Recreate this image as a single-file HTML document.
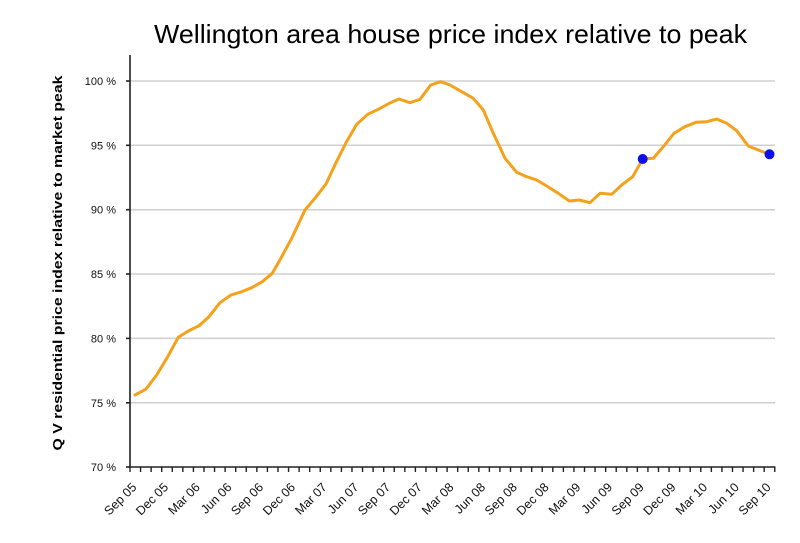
<!DOCTYPE html>
<html>
<head>
<meta charset="utf-8">
<style>
html,body{margin:0;padding:0;background:#fff;}
svg{display:block;}
text{font-family:"Liberation Sans",Arial,sans-serif;}
</style>
</head>
<body>
<svg width="800" height="543" viewBox="0 0 800 543" xmlns="http://www.w3.org/2000/svg">
<rect width="800" height="543" fill="#fff"/>
<!-- Title -->
<text x="154" y="43" font-size="26" fill="#000" textLength="593" lengthAdjust="spacingAndGlyphs">Wellington area house price index relative to peak</text>
<!-- Y axis title -->
<text transform="translate(62,263) rotate(-90)" text-anchor="middle" font-size="13" font-weight="bold" fill="#000" textLength="375" lengthAdjust="spacingAndGlyphs">Q V residential price index relative to market peak</text>
<!-- gridlines -->
<g stroke="#cfcfcf" stroke-width="1.5">
<line x1="130" y1="81" x2="775" y2="81"/>
<line x1="130" y1="145.3" x2="775" y2="145.3"/>
<line x1="130" y1="209.7" x2="775" y2="209.7"/>
<line x1="130" y1="274" x2="775" y2="274"/>
<line x1="130" y1="338.4" x2="775" y2="338.4"/>
<line x1="130" y1="402.8" x2="775" y2="402.8"/>
</g>
<!-- Axes -->
<g stroke="#222" stroke-width="1.6">
<line x1="130" y1="55" x2="130" y2="467.5"/>
<line x1="129.5" y1="467" x2="775.5" y2="467"/>
<line x1="126" y1="81" x2="130" y2="81"/>
<line x1="126" y1="145.3" x2="130" y2="145.3"/>
<line x1="126" y1="209.7" x2="130" y2="209.7"/>
<line x1="126" y1="274" x2="130" y2="274"/>
<line x1="126" y1="338.4" x2="130" y2="338.4"/>
<line x1="126" y1="402.8" x2="130" y2="402.8"/>
<line x1="126" y1="467" x2="130" y2="467"/>
</g>
<path stroke="#222" stroke-width="1.4" fill="none" d="M130,467v5 M140.57,467v5 M151.14,467v5 M161.71,467v5 M172.28,467v5 M182.85,467v5 M193.42,467v5 M203.99,467v5 M214.56,467v5 M225.13,467v5 M235.7,467v5 M246.27,467v5 M256.84,467v5 M267.41,467v5 M277.98,467v5 M288.55,467v5 M299.12,467v5 M309.69,467v5 M320.26,467v5 M330.83,467v5 M341.4,467v5 M351.97,467v5 M362.54,467v5 M373.11,467v5 M383.68,467v5 M394.25,467v5 M404.82,467v5 M415.39,467v5 M425.96,467v5 M436.53,467v5 M447.1,467v5 M457.67,467v5 M468.24,467v5 M478.81,467v5 M489.38,467v5 M499.95,467v5 M510.52,467v5 M521.09,467v5 M531.66,467v5 M542.23,467v5 M552.8,467v5 M563.37,467v5 M573.94,467v5 M584.51,467v5 M595.08,467v5 M605.65,467v5 M616.22,467v5 M626.79,467v5 M637.36,467v5 M647.93,467v5 M658.5,467v5 M669.07,467v5 M679.64,467v5 M690.21,467v5 M700.78,467v5 M711.35,467v5 M721.92,467v5 M732.49,467v5 M743.06,467v5 M753.63,467v5 M764.2,467v5 M774.77,467v5"/>
<!-- Y tick labels -->
<g font-size="11" fill="#111" text-anchor="end">
<text x="116" y="85">100 %</text>
<text x="116" y="149.3">95 %</text>
<text x="116" y="213.7">90 %</text>
<text x="116" y="278">85 %</text>
<text x="116" y="342.4">80 %</text>
<text x="116" y="406.8">75 %</text>
<text x="116" y="471">70 %</text>
</g>
<!-- X tick labels -->
<g font-size="12.5" fill="#111" text-anchor="end">
<text transform="translate(137.3,488) rotate(-45)">Sep 05</text>
<text transform="translate(169,488) rotate(-45)">Dec 05</text>
<text transform="translate(200.7,488) rotate(-45)">Mar 06</text>
<text transform="translate(232.4,488) rotate(-45)">Jun 06</text>
<text transform="translate(264.1,488) rotate(-45)">Sep 06</text>
<text transform="translate(295.9,488) rotate(-45)">Dec 06</text>
<text transform="translate(327.6,488) rotate(-45)">Mar 07</text>
<text transform="translate(359.3,488) rotate(-45)">Jun 07</text>
<text transform="translate(391,488) rotate(-45)">Sep 07</text>
<text transform="translate(422.7,488) rotate(-45)">Dec 07</text>
<text transform="translate(454.4,488) rotate(-45)">Mar 08</text>
<text transform="translate(486.1,488) rotate(-45)">Jun 08</text>
<text transform="translate(517.8,488) rotate(-45)">Sep 08</text>
<text transform="translate(549.6,488) rotate(-45)">Dec 08</text>
<text transform="translate(581.3,488) rotate(-45)">Mar 09</text>
<text transform="translate(613,488) rotate(-45)">Jun 09</text>
<text transform="translate(644.7,488) rotate(-45)">Sep 09</text>
<text transform="translate(676.4,488) rotate(-45)">Dec 09</text>
<text transform="translate(708.1,488) rotate(-45)">Mar 10</text>
<text transform="translate(739.8,488) rotate(-45)">Jun 10</text>
<text transform="translate(771.6,488) rotate(-45)">Sep 10</text>
</g>
<!-- Data line -->
<polyline fill="none" stroke="#f4a11c" stroke-width="3" stroke-linejoin="round" stroke-linecap="round"
points="135,395 145.7,389.3 156.7,375 167.7,356.7 178.3,337.3 188.3,331 199,325.7 209,316.7 220,302.7 231,295 241.7,291.7 251.7,287.7 262.3,281.7 272.3,273.3 281.7,256.7 291.7,238.3 305,210 315.7,197.3 326,184 335.7,163.3 345.7,143.3 356.7,124.3 367.7,114.3 378.3,109.3 389.3,103.3 399,99 410,102.7 420,99.3 430.7,85 440.7,81.7 450,85 461.7,91.7 473.3,98.3 483.3,110 493.3,133.3 505,158.3 516.7,172.3 526.7,176.7 536.7,180 546.7,186 558.3,193.3 569.3,201 579.3,200 590,202.7 600,193.3 611.7,194.3 621.7,185 632.7,176.7 642.7,159 653.3,158.3 663.3,146.7 674,133.3 685,126.7 696,122.3 706.7,121.7 716.7,119 726.7,123.3 736.7,130.7 748.3,146 758.3,150 769.3,154.3"/>
<!-- Markers -->
<circle cx="642.7" cy="159" r="5" fill="#0a10e8"/>
<circle cx="769.5" cy="154.3" r="5" fill="#0a10e8"/>
</svg>
</body>
</html>
